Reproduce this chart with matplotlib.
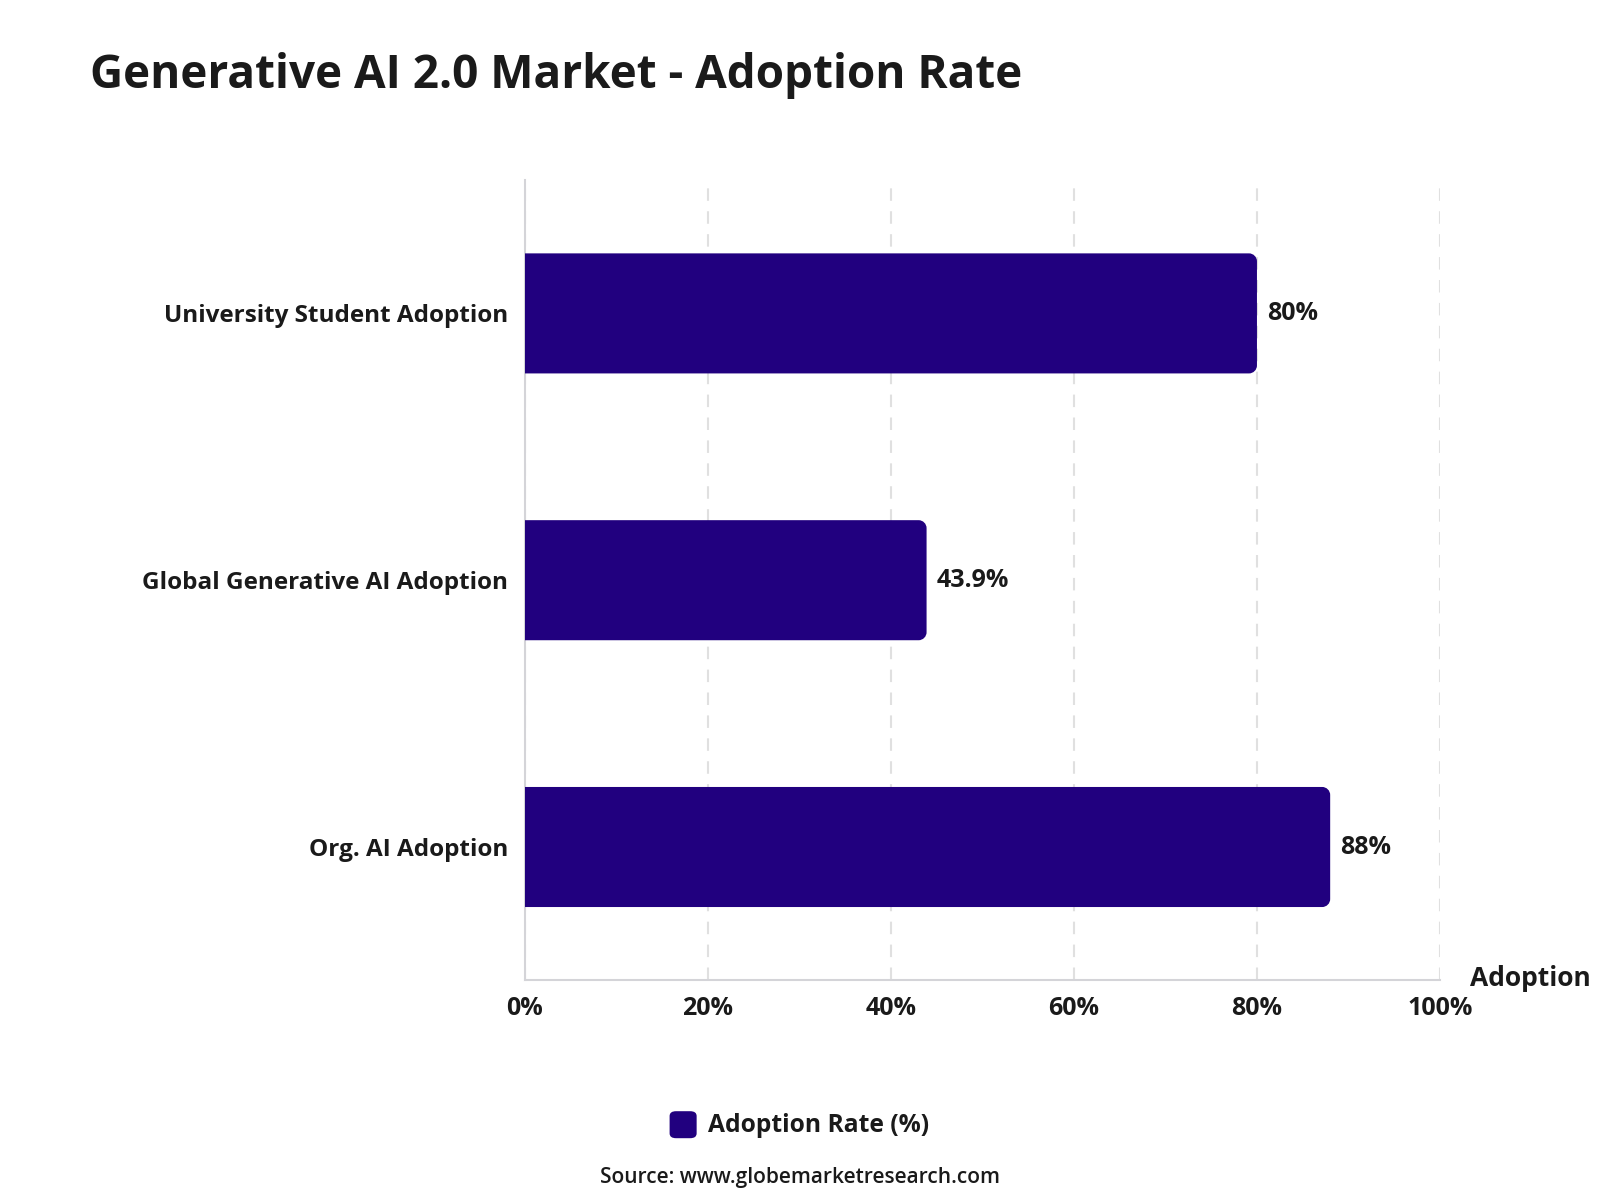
import numpy as np
import matplotlib
matplotlib.use('Agg')
import matplotlib.pyplot as plt
from matplotlib.patches import FancyBboxPatch, PathPatch
from matplotlib.path import Path

categories = ['University Student Adoption', 'Global Generative AI Adoption', 'Org. AI Adoption']
values = [80, 43.9, 88]
value_labels = ['80%', '43.9%', '88%']
x_ticks = [0, 20, 40, 60, 80, 100]
x_tick_labels = ['0%', '20%', '40%', '60%', '80%', '100%']

bar_color = '#21007F'
text_color = '#1a1a1a'
plt.rcParams['font.family'] = ['Open Sans', 'DejaVu Sans']

fig = plt.figure(figsize=(16, 12), dpi=100)
ax = fig.add_axes([0.328, 0.183, 0.572, 0.667])

ax.set_xlim(0, 100)
ax.set_ylim(2.5, -0.5)


def right_rounded_bar(x0, y0, w, h, rx, ry):
    # square on the left, rounded corners on the right
    k = 0.5523
    verts = [
        (x0, y0),
        (x0 + w - rx, y0),
        (x0 + w - rx + k * rx, y0), (x0 + w, y0 + ry - k * ry), (x0 + w, y0 + ry),
        (x0 + w, y0 + h - ry),
        (x0 + w, y0 + h - ry + k * ry), (x0 + w - rx + k * rx, y0 + h), (x0 + w - rx, y0 + h),
        (x0, y0 + h),
        (x0, y0),
    ]
    codes = [Path.MOVETO, Path.LINETO,
             Path.CURVE4, Path.CURVE4, Path.CURVE4,
             Path.LINETO,
             Path.CURVE4, Path.CURVE4, Path.CURVE4,
             Path.LINETO, Path.CLOSEPOLY]
    return Path(verts, codes)


bar_h = 0.45
x_per_px = 100 / (0.572 * 1600)
y_per_px = 3 / (0.667 * 1200)
rad_px = 8
for i, v in enumerate(values):
    p = right_rounded_bar(0, i - bar_h / 2, v, bar_h, rad_px * x_per_px, rad_px * y_per_px)
    ax.add_patch(PathPatch(p, fc=bar_color, ec='none', zorder=3))
    ax.text(v + 1.1, i, value_labels[i], va='center', ha='left', fontsize=18,
            fontweight='bold', color=text_color, zorder=4)

ax.set_yticks(range(len(categories)))
ax.set_yticklabels(categories, fontsize=17.5, fontweight='bold', color=text_color)
ax.set_xticks(x_ticks)
ax.set_xticklabels(x_tick_labels, fontsize=18, fontweight='bold', color=text_color)
ax.tick_params(axis='both', length=0)
ax.tick_params(axis='x', pad=11)
ax.tick_params(axis='y', pad=12)

ax.grid(axis='x', color='#e0e0e0', linestyle=(0, (6, 5)), linewidth=1.5, zorder=0)
ax.grid(axis='y', visible=False)
for s in ['top', 'right']:
    ax.spines[s].set_visible(False)
for s in ['left', 'bottom']:
    ax.spines[s].set_color('#d4d4d8')
    ax.spines[s].set_linewidth(1.5)

fig.text(0.9 + 0.019, 0.185, 'Adoption', fontsize=19, fontweight='bold',
         color=text_color, ha='left', va='center')

fig.text(0.056, 0.937, 'Generative AI 2.0 Market - Adoption Rate', fontsize=33,
         fontweight='bold', color=text_color, ha='left', va='center')

# legend
fig.patches.append(FancyBboxPatch((0.4185, 0.0515), 0.0169, 0.0225,
                                  boxstyle='round,pad=0,rounding_size=0.004',
                                  transform=fig.transFigure, fc=bar_color, ec='none'))
fig.text(0.4425, 0.0625, 'Adoption Rate (%)', fontsize=17.7, fontweight='bold',
         color=text_color, ha='left', va='center')

fig.text(0.5, 0.019, 'Source: www.globemarketresearch.com', fontsize=15,
         fontweight='semibold', color=text_color, ha='center', va='center')

fig.savefig('out.png', dpi=100, facecolor='white')
